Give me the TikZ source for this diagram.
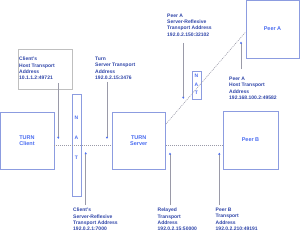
\documentclass[tikz,border=0pt]{standalone}
\usepackage{fontspec}
\setmainfont{Liberation Sans}
\usetikzlibrary{arrows.meta}
\definecolor{boxc}{HTML}{8C9CE0}
\definecolor{namec}{HTML}{4A6CF0}
\definecolor{labc}{HTML}{2F45A8}
\definecolor{arrc}{HTML}{9A9AA8}
\definecolor{tipc}{HTML}{4A6CF0}
\begin{document}
\begin{tikzpicture}[x=1pt,y=-1pt,
  ent/.style={draw=boxc,line width=0.8pt,inner sep=0pt,font=\fontsize{5.5}{6.5}\selectfont\bfseries,text=namec,align=center},
  natbox/.style={draw=boxc,line width=0.6pt,inner sep=0pt},
  natl/.style={font=\fontsize{5}{6}\selectfont\bfseries,text=namec,inner sep=0pt},
  lab/.style={font=\fontsize{5}{6.3}\selectfont\bfseries,text=labc,align=left,anchor=north west,inner sep=0pt},
  ptr/.style={draw=arrc,line width=0.8pt,-{Latex[length=2.2pt,width=2.6pt,color=tipc]}},
  dots/.style={draw=arrc,line width=0.6pt,dash pattern=on 1pt off 1pt}]
\useasboundingbox (0,0) rectangle (300,243);
% entities
\node[ent,minimum width=54pt,minimum height=57pt] (client) at (27,140.5) {TURN\\Client};
\node[ent,minimum width=53.5pt,minimum height=57pt] (server) at (138.75,140.5) {TURN\\Server};
\node[ent,minimum width=55pt,minimum height=58pt] (peerB) at (250.5,140) {Peer B};
\node[ent,minimum width=53pt,minimum height=58pt] (peerA) at (272.5,29) {Peer A};
% NATs
\node[natbox,minimum width=9pt,minimum height=102pt] (nat1) at (76.5,145) {};
\node[natl] (n1n) at (76.5,118) {N};
\node[natl] (n1a) at (76.5,138) {A};
\node[natl] (n1t) at (76.5,158) {T};
\node[natbox,minimum width=9pt,minimum height=28pt] (nat2) at (196.5,85) {};
\node[natl] (n2n) at (196.5,76) {N};
\node[natl] (n2a) at (196.5,84.5) {A};
\node[natl] (n2t) at (196.5,93) {T};
% host address box
\node[draw=black!25,line width=0.8pt,minimum width=54pt,minimum height=40pt,inner sep=0pt] (hostbox) at (45,69) {};
% labels
\node[lab] (lhost) at (19,57) {Client's\\Host Transport\\Address\\10.1.1.2:49721};
\node[lab] (lsrv) at (95,57) {Turn\\Server Transport\\Address\\192.0.2.15:3476};
\node[lab] (lpasr) at (167,13.5) {Peer A\\Server-Reflexive\\Transport Address\\192.0.2.150:32102};
\node[lab] (lpah) at (229,77) {Peer A\\Host Transport\\Address\\192.168.100.2:49582};
\node[lab] (lcsr) at (73,208) {Client's\\Server-Reflexive\\Transport Address\\192.0.2.1:7000};
\node[lab] (lrel) at (157.5,208) {Relayed\\Transport\\Address\\192.0.2.15:50000};
\node[lab] (lpb) at (215.5,208) {Peer B\\Transport\\Address\\192.0.2.210:49191};
% connectors
\draw[dots] (client.east |- 0,145) -- (server.west |- 0,145);
\draw[dots] (server.east |- 0,145) -- (peerB.west |- 0,145);
\draw[dots] (server.east |- 0,124) -- (peerA.west |- 0,32);
% pointers
\coordinate (a1s) at (58.3,83);
\coordinate (a1e) at (58.3,139);
\draw[ptr] (a1s) -- (a1e);
\coordinate (a2s) at (107,82);
\coordinate (a2e) at (107,139);
\draw[ptr] (a2s) -- (a2e);
\coordinate (a3s) at (183.3,43);
\coordinate (a3e) at (183.3,99);
\draw[ptr] (a3s) -- (a3e);
\coordinate (a4s) at (241,69.5);
\coordinate (a4e) at (241,41.5);
\draw[ptr] (a4s) -- (a4e);
\coordinate (a5s) at (85.7,205);
\coordinate (a5e) at (85.7,152);
\draw[ptr] (a5s) -- (a5e);
\coordinate (a6s) at (170,205);
\coordinate (a6e) at (170,152.5);
\draw[ptr] (a6s) -- (a6e);
\coordinate (a7s) at (219.3,205);
\coordinate (a7e) at (219.3,152.5);
\draw[ptr] (a7s) -- (a7e);
\end{tikzpicture}
\end{document}
